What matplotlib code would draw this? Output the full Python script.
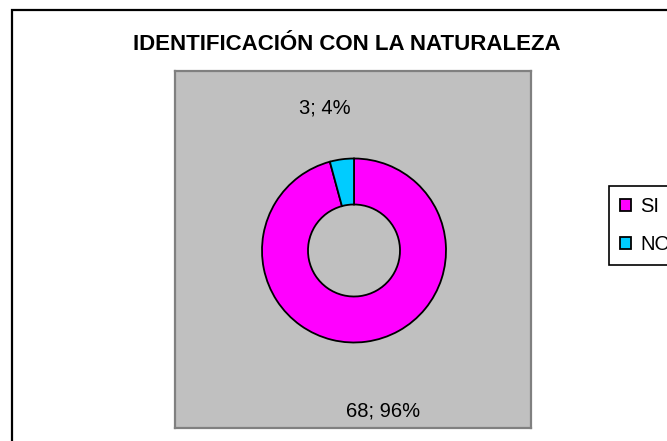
import matplotlib
matplotlib.use("Agg")
import numpy as np
import matplotlib.pyplot as plt
from matplotlib.patches import Rectangle

# datos
categorias = ["SI", "NO"]
valores = [68, 3]
colores = ["#FF00FF", "#00CCFF"]
titulo = "IDENTIFICACIÓN CON LA NATURALEZA"

plt.rcParams['font.family'] = ['Liberation Sans', 'DejaVu Sans']

W, H = 667, 441
fig = plt.figure(figsize=(W / 100, H / 100), dpi=100)
fig.patch.set_facecolor("white")

# borde exterior del grafico (se sale por la derecha y abajo)
fig.patches.append(Rectangle((11.5 / W, -0.2), 1.2, 1.2 - 9.5 / H,
                             transform=fig.transFigure, fill=False,
                             edgecolor="black", linewidth=1.6))

# area gris del grafico, en pixeles
x0, x1, y0, y1 = 175, 531, 71, 428
ax = fig.add_axes([x0 / W, 1 - y1 / H, (x1 - x0) / W, (y1 - y0) / H])
ax.set_facecolor("#C0C0C0")
ax.set_xticks([])
ax.set_yticks([])
for s in ax.spines.values():
    s.set_color("#808080")
    s.set_linewidth(1.6)

# dona
cx, cy, R = 354, H - 250.5, 92
wedges, _ = ax.pie(valores, colors=colores, startangle=90, counterclock=False,
                   center=(cx, cy), radius=R, frame=True,
                   wedgeprops=dict(width=R / 2, edgecolor="black", linewidth=1.3))
ax.set_xlim(x0, x1)
ax.set_ylim(H - y1, H - y0)
ax.set_aspect("auto")

# etiquetas "valor; porcentaje"
total = sum(valores)
d = 1.66 * R
for w, v in zip(wedges, valores):
    ang = np.deg2rad((w.theta1 + w.theta2) / 2)
    tx = cx + d * np.cos(ang) * 1.45
    ty = cy - 9 + d * np.sin(ang)
    ax.text(tx, ty, f"{v}; {round(100 * v / total)}%", ha="center", va="center",
            fontsize=14.5, color="black")

fig.text(347 / W, 1 - 44 / H, titulo, ha="center", va="center",
         fontsize=16, fontweight="bold")

leg = fig.legend(wedges, categorias, loc="upper left",
                 bbox_to_anchor=(609 / W, 1 - 186 / H), borderaxespad=0,
                 fontsize=14.5, frameon=True, fancybox=False, shadow=False,
                 handlelength=0.55, handleheight=0.55, handletextpad=0.45,
                 labelspacing=0.95, borderpad=0.55)
leg.get_frame().set_edgecolor("black")
leg.get_frame().set_linewidth(1.2)
leg.get_frame().set_facecolor("white")
leg.get_frame().set_alpha(1)

fig.savefig("out.png", dpi=100)
